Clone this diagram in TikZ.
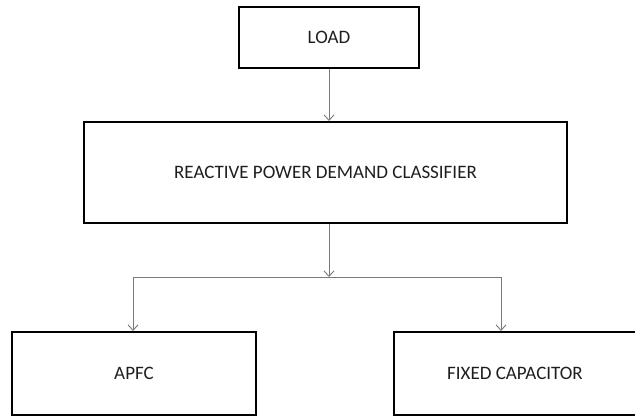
\documentclass[tikz,border=0pt]{standalone}
\usepackage{fontspec}
\setmainfont{Carlito}
\usetikzlibrary{arrows.meta}
\definecolor{linkgray}{HTML}{7A7A7A}
\definecolor{textdark}{HTML}{1E1E1E}
\tikzset{
  x=1pt, y=-1pt,
  block/.style={draw=black, line width=2pt, rectangle, inner sep=0pt,
    text=textdark, font=\fontsize{19}{21}\selectfont},
  conn/.style={draw=linkgray, line width=0.9pt},
  flow/.style={conn, -{Straight Barb[length=5.5pt,width=10pt,line width=0.9pt]}}
}
\begin{document}
\begin{tikzpicture}
\useasboundingbox (0,0) rectangle (635,416);
% blocks
\node[block, minimum width=180pt, minimum height=61pt] (load) at (329,37.5) {LOAD};
\node[block, minimum width=483pt, minimum height=101pt] (cls) at (325.5,172.5) {REACTIVE POWER DEMAND CLASSIFIER};
\node[block, minimum width=244pt, minimum height=83pt] (apfc) at (134,373.5) {APFC};
\node[block, minimum width=242pt, minimum height=83pt] (fixed) at (515,373.5) {FIXED CAPACITOR};
% branch points
\coordinate (split) at (329,277);
\coordinate (lb) at (133,277);
\coordinate (rb) at (501,277);
% connectors
\draw[flow] (load.south) -- (load.south |- cls.north);
\draw[flow] (split |- cls.south) -- (split);
\draw[conn] (lb) -- (rb);
\draw[flow] (lb) -- (lb |- apfc.north);
\draw[flow] (rb) -- (rb |- fixed.north);
\end{tikzpicture}
\end{document}
